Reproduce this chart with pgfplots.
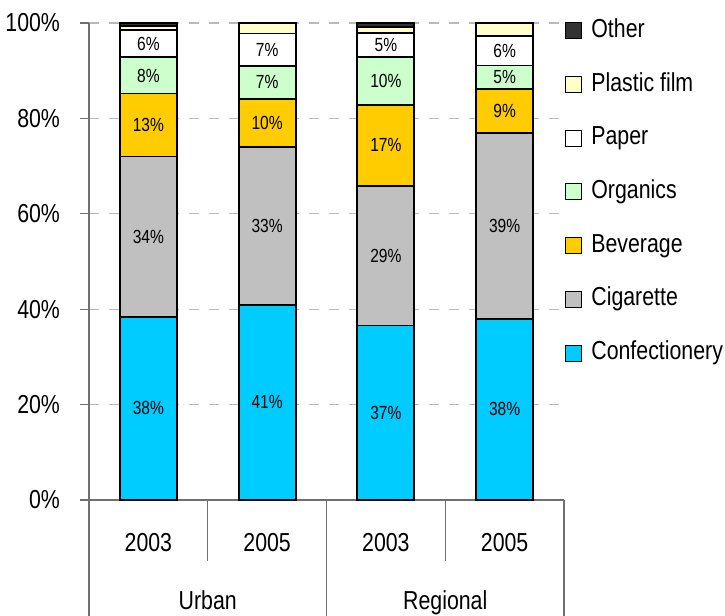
\documentclass[border=0pt]{standalone}
\usepackage{fontspec}
\setmainfont{Liberation Sans}[FakeStretch=0.82]
\usepackage{pgfplots}
\usepackage{pgfplotstable}
\pgfplotsset{compat=1.18}
\definecolor{cconf}{HTML}{00CCFF}
\definecolor{ccig}{HTML}{C0C0C0}
\definecolor{cbev}{HTML}{FFCC00}
\definecolor{corg}{HTML}{CCFFCC}
\definecolor{cpap}{HTML}{FFFFFF}
\definecolor{cpla}{HTML}{FFFFCC}
\definecolor{coth}{HTML}{333333}
\definecolor{axgray}{HTML}{707070}

\pgfplotstableread{
x conf cig bev org pap pla oth
0 38.4 33.6 13.2 7.6 5.8 0.8 0.6
1 40.9 33.1 10.1 6.9 6.8 2.2 0.0
2 36.6 29.3 16.9 10.0 5.1 1.3 0.8
3 38.0 39.0 9.1 5.0 6.1 2.8 0.0
}\datatable

\pgfplotsset{
  seg/.style={fill=#1, draw=black, line width=0.9pt,
    legend image code/.code={\draw[##1,line width=0.5pt] (0pt,-4pt) rectangle (8pt,4pt);}},
  lab/.style={
    nodes near coords={\pgfmathprintnumber[fixed,precision=0,assume math mode=true]{\pgfplotspointmeta}\%},
    point meta=explicit,
    every node near coord/.append style={anchor=center,
      font=\fontsize{9.5}{11}\selectfont, text=black, inner sep=0pt}},
}

\begin{document}
\begin{tikzpicture}
\path[use as bounding box] (-44.5pt,-58pt) rectangle (318pt,250pt);
\begin{axis}[
  at={(0pt,0pt)}, anchor=south west,
  scale only axis, width=237.5pt, height=238.5pt,
  ybar stacked, bar width=28.5pt,
  xmin=-0.5, xmax=3.5, ymin=0, ymax=100,
  enlargelimits=false,
  axis lines*=left,
  axis line style={axgray, line width=0.6pt},
  tick style={axgray, line width=0.6pt},
  tick align=outside,
  major tick length=4.5pt,
  ytick={0,20,...,100},
  yticklabels={0\%,20\%,40\%,60\%,80\%,100\%},
  ymajorgrids,
  major grid style={dash pattern=on 5pt off 5pt, gray!55, line width=0.6pt},
  xtick={0,1,2,3},
  xticklabels={2003,2005,2003,2005},
  xtick style={draw=none},
  xticklabel style={anchor=base, yshift=-21.5pt},
  yticklabel style={anchor=east, xshift=-6.5pt},
  tick label style={font=\fontsize{13}{15}\selectfont},
  clip=false,
  legend style={draw=none, fill=none, at={(1,1)}, anchor=north west,
    xshift=0.5pt, yshift=2.5pt, font=\fontsize{13}{15}\selectfont,
    row sep=14.35pt, column sep=4.5pt, inner xsep=0pt, inner ysep=0pt,
    nodes={inner sep=0pt, text height=9.5pt, text depth=3pt}},
  legend cell align=left,
  reverse legend,
]
\addplot[seg=cconf, lab] table[x=x, y=conf, meta=conf]{\datatable};
\addlegendentry{Confectionery}
\addplot[seg=ccig, lab] table[x=x, y=cig, meta=cig]{\datatable};
\addlegendentry{Cigarette}
\addplot[seg=cbev, lab] table[x=x, y=bev, meta=bev]{\datatable};
\addlegendentry{Beverage}
\addplot[seg=corg, lab] table[x=x, y=org, meta=org]{\datatable};
\addlegendentry{Organics}
\addplot[seg=cpap, lab] table[x=x, y=pap, meta=pap]{\datatable};
\addlegendentry{Paper}
\addplot[seg=cpla] table[x=x, y=pla]{\datatable};
\addlegendentry{Plastic film}
\addplot[seg=coth] table[x=x, y=oth]{\datatable};
\addlegendentry{Other}

\draw[axgray, line width=0.6pt] (axis cs:0.5,0) -- ([yshift=-30.5pt]axis cs:0.5,0);
\draw[axgray, line width=0.6pt] (axis cs:2.5,0) -- ([yshift=-30.5pt]axis cs:2.5,0);
\draw[axgray, line width=0.6pt] (axis cs:-0.5,0) -- ([yshift=-58pt]axis cs:-0.5,0);
\draw[axgray, line width=0.6pt] (axis cs:1.5,0) -- ([yshift=-58pt]axis cs:1.5,0);
\draw[axgray, line width=0.6pt] (axis cs:3.5,0) -- ([yshift=-58pt]axis cs:3.5,0);
\node[anchor=base, font=\fontsize{13}{15}\selectfont] at (axis cs:0.5,0) [yshift=-55pt] {Urban};
\node[anchor=base, font=\fontsize{13}{15}\selectfont] at (axis cs:2.5,0) [yshift=-55pt] {Regional};
\end{axis}
\end{tikzpicture}
\end{document}
